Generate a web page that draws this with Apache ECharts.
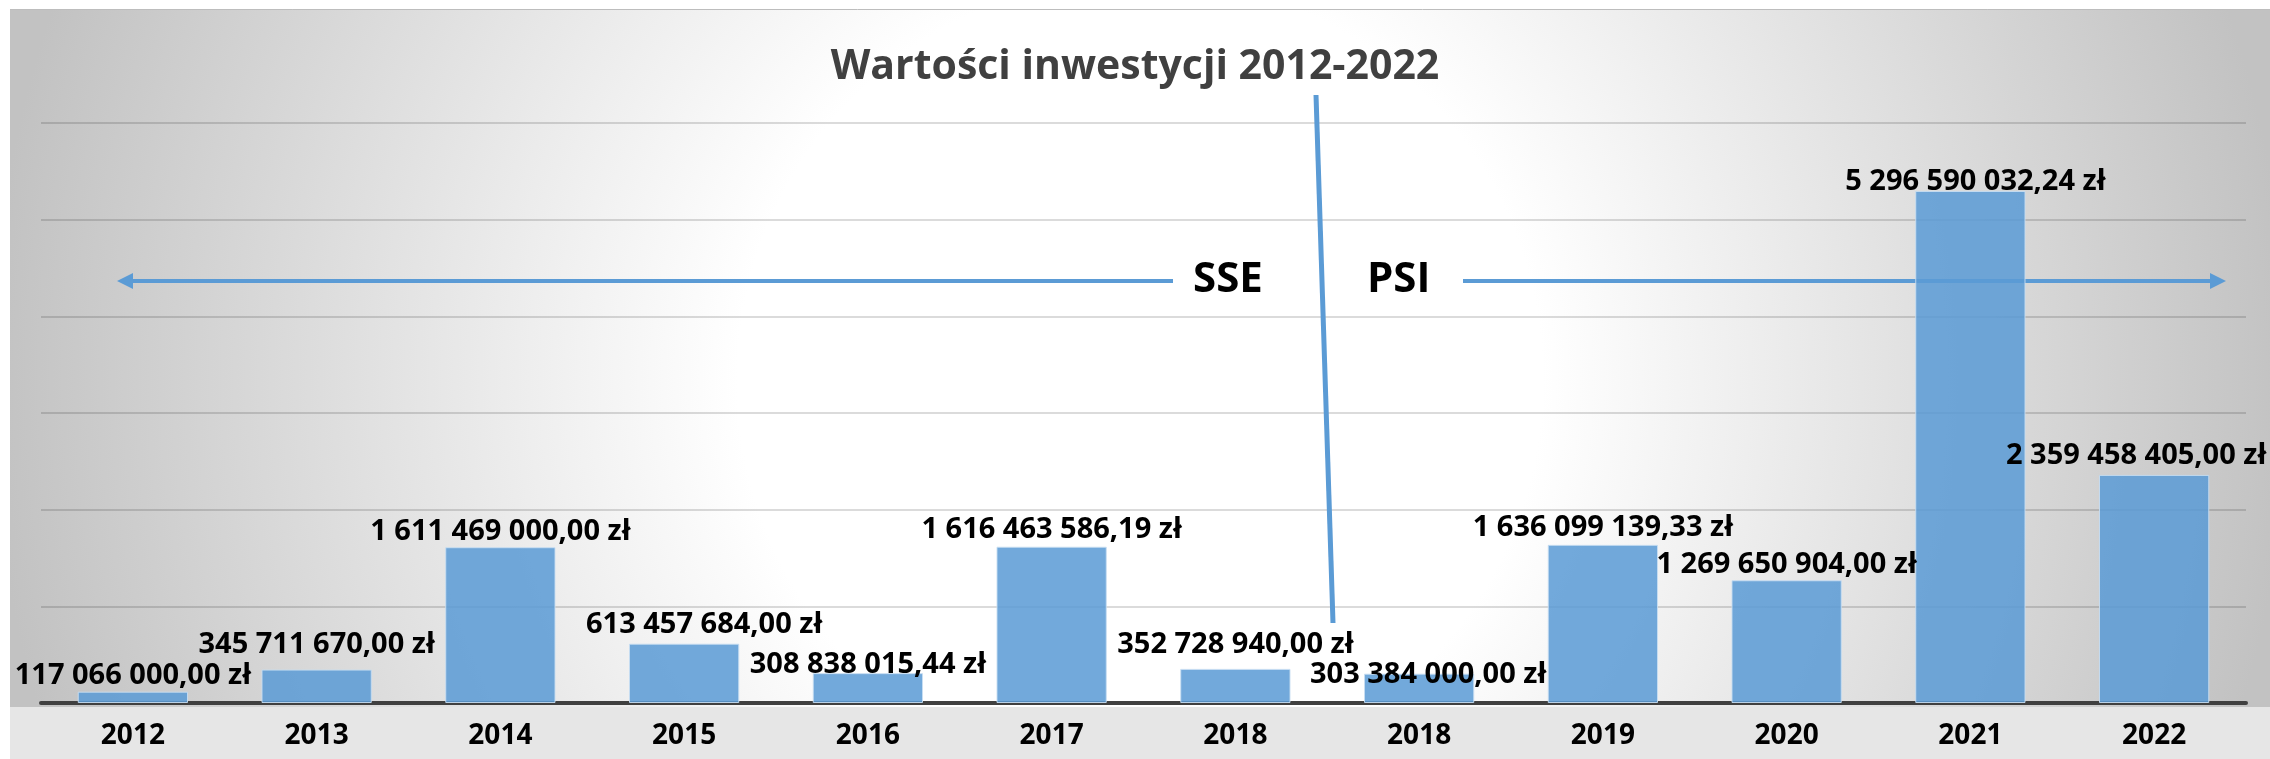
<!DOCTYPE html>
<html>
<head>
<meta charset="utf-8">
<script src="https://cdn.jsdelivr.net/npm/echarts@6/dist/echarts.min.js"></script>
<style>
    html, body { margin: 0; padding: 0; background: #fff; }
    #chart { width: 2270px; height: 759px; }
</style>
</head>
<body>
<div id="chart"></div>
<script>
    // dane z wykresu
    const years = ['2012', '2013', '2014', '2015', '2016', '2017', '2018', '2018', '2019', '2020', '2021', '2022'];
    const values = [117066000.00, 345711670.00, 1611469000.00, 613457684.00, 308838015.44, 1616463586.19,
        352728940.00, 303384000.00, 1636099139.33, 1269650904.00, 5296590032.24, 2359458405.00];
    const titleText = 'Wartości inwestycji 2012-2022';
    const leftTag = 'SSE';
    const rightTag = 'PSI';

    // przesunięcia etykiet (ręcznie przesunięte w oryginale)
    const labelShift = [[0, 2], [0, -7], [0, 2], [20, -1], [0, 9], [0, 0],
        [0, -7], [9, 19], [0, 0], [0, 2], [5, 8], [-18, -2]];

    const FONT = "'Open Sans', 'Noto Sans', sans-serif";
    const BLUE = '#5b9bd5';

    function fmt(v) {
        let parts = v.toFixed(2).split('.');
        return parts[0].replace(/\B(?=(\d{3})+(?!\d))/g, ' ') + ',' + parts[1] + ' zł';
    }

    let chart = echarts.init(document.getElementById('chart'));

    let option = {
        animation: false,
        title: {
            text: titleText,
            left: 'center',
            top: 42,
            textStyle: { fontFamily: FONT, fontSize: 41, fontWeight: 'bold', color: '#404040' }
        },
        grid: { left: 41, right: 24, top: 123, bottom: 56 },
        xAxis: {
            type: 'category',
            data: years,
            axisTick: { show: false },
            axisLine: { lineStyle: { color: '#404040', width: 4 } },
            axisLabel: { margin: 19, fontFamily: FONT, fontSize: 28, fontWeight: 'bold', color: '#000' }
        },
        yAxis: {
            type: 'value',
            min: 0,
            max: 6000000000,
            interval: 1000000000,
            axisLabel: { show: false },
            axisLine: { show: false },
            axisTick: { show: false },
            splitLine: { lineStyle: { color: 'rgba(0,0,0,0.14)', width: 2 } }
        },
        series: [{
            type: 'bar',
            barWidth: '60%',
            z: 2,
            itemStyle: { color: 'rgba(91,155,213,0.86)', borderColor: 'rgba(200,222,242,0.9)', borderWidth: 1 },
            label: {
                show: true,
                position: 'top',
                distance: 3,
                fontFamily: FONT,
                fontSize: 29,
                fontWeight: 'bold',
                color: '#000',
                formatter: p => fmt(p.value)
            },
            data: values.map((v, i) => ({ value: v, label: { offset: labelShift[i] } }))
        }],
        graphic: [
            {
                type: 'rect', z: -10, silent: true,
                shape: { x: 10, y: 9, width: 2260, height: 698 },
                style: {
                    fill: new echarts.graphic.RadialGradient(1140, 380, 1150, [
                        { offset: 0, color: '#ffffff' },
                        { offset: 0.35, color: '#ffffff' },
                        { offset: 1, color: '#c2c2c2' }
                    ], true)
                }
            },
            { type: 'rect', z: -10, silent: true, shape: { x: 10, y: 707, width: 2260, height: 52 }, style: { fill: '#e6e6e6' } },
            { type: 'line', z: -9, silent: true, shape: { x1: 10, y1: 9.5, x2: 2270, y2: 9.5 }, style: { stroke: '#bdbdbd', lineWidth: 1 } },
            // strzałki SSE / PSI
            { type: 'line', z: 1, silent: true, shape: { x1: 128, y1: 281, x2: 1173, y2: 281 }, style: { stroke: BLUE, lineWidth: 4 } },
            { type: 'polygon', z: 1, silent: true, shape: { points: [[117, 281], [133, 273], [133, 289]] }, style: { fill: BLUE } },
            { type: 'line', z: 1, silent: true, shape: { x1: 1463, y1: 281, x2: 2215, y2: 281 }, style: { stroke: BLUE, lineWidth: 4 } },
            { type: 'polygon', z: 1, silent: true, shape: { points: [[2226, 281], [2210, 273], [2210, 289]] }, style: { fill: BLUE } },
            { type: 'line', z: 1, silent: true, shape: { x1: 1316, y1: 95, x2: 1333, y2: 623 }, style: { stroke: BLUE, lineWidth: 5 } },
            {
                type: 'text', z: 3, left: 1193, top: 259,
                style: { text: leftTag, font: "bold 42px " + FONT, fill: '#000' }
            },
            {
                type: 'text', z: 3, left: 1367, top: 259,
                style: { text: rightTag, font: "bold 42px " + FONT, fill: '#000' }
            }
        ]
    };

    chart.setOption(option);
</script>
</body>
</html>
